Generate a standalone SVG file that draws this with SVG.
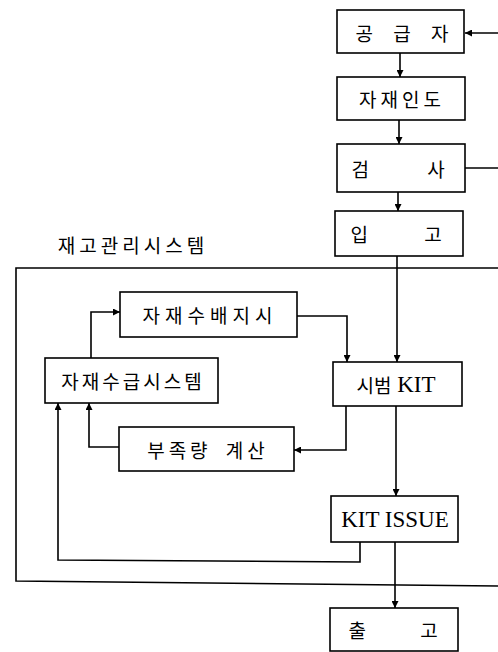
<svg xmlns="http://www.w3.org/2000/svg" width="498" height="652" viewBox="0 0 498 652">
<style>
.b{fill:#fff;stroke:#000;stroke-width:1.6}
.t{font-family:"Noto Sans CJK KR","Noto Sans",sans-serif;font-size:19px;fill:#000;text-anchor:middle;dominant-baseline:central}
.e{font-family:"Liberation Serif","Noto Sans CJK KR",serif;font-size:23px;fill:#000;text-anchor:middle;dominant-baseline:central}
.c{fill:none;stroke:#000;stroke-width:1.6}
</style>
<defs>
<marker id="a" viewBox="0 0 10 10" refX="10" refY="5" markerWidth="7" markerHeight="7" orient="auto" markerUnits="userSpaceOnUse"><path d="M0,0 L10,5 L0,10 z" fill="#000"/></marker>
</defs>
<rect x="0" y="0" width="498" height="652" fill="#fff"/>
<g id="system">
<path class="c" d="M498,268 L16,268 L16,581 L498,586"/>
<text class="t" x="133" y="244" letter-spacing="4">재고관리시스템</text>
</g>
<g id="connectors">
<path class="c" d="M498,33 L465,33" marker-end="url(#a)"/>
<path class="c" d="M400,53 L400,77" marker-end="url(#a)"/>
<path class="c" d="M399,120 L399,144" marker-end="url(#a)"/>
<path class="c" d="M465,168 L498,168"/>
<path class="c" d="M398,192 L398,211" marker-end="url(#a)"/>
<path class="c" d="M397,256 L397,362" marker-end="url(#a)"/>
<path class="c" d="M297,316 L347,316 L347,362" marker-end="url(#a)"/>
<path class="c" d="M91,358 L91,312 L120,312" marker-end="url(#a)"/>
<path class="c" d="M346,406 L346,450 L294,450" marker-end="url(#a)"/>
<path class="c" d="M119,447 L89,447 L89,403" marker-end="url(#a)"/>
<path class="c" d="M396,406 L396,496" marker-end="url(#a)"/>
<path class="c" d="M360,542 L360,562 L58,560 L58,403" marker-end="url(#a)"/>
<path class="c" d="M395,542 L395,608" marker-end="url(#a)"/>
</g>
<g id="n1"><rect class="b" x="337" y="10" width="127" height="43"/><text class="t" x="402" y="32" word-spacing="16">공 급 자</text></g>
<g id="n2"><rect class="b" x="337" y="77" width="128" height="43"/><text class="t" x="402" y="98" letter-spacing="4">자재인도</text></g>
<g id="n3"><rect class="b" x="337" y="144" width="128" height="48"/><text class="t" x="398" y="168" word-spacing="54">검 사</text></g>
<g id="n4"><rect class="b" x="335" y="211" width="128" height="45"/><text class="t" x="396" y="233" word-spacing="52">입 고</text></g>
<g id="n5"><rect class="b" x="120" y="292" width="177" height="45"/><text class="t" x="210" y="314" letter-spacing="5">자재수배지시</text></g>
<g id="n6"><rect class="b" x="45" y="358" width="173" height="45"/><text class="t" x="133" y="380" letter-spacing="3">자재수급시스템</text></g>
<g id="n7"><rect class="b" x="333" y="362" width="129" height="44"/><text class="e" x="396" y="384"><tspan font-family="Noto Sans CJK KR" font-size="19">시범</tspan> KIT</text></g>
<g id="n8"><rect class="b" x="119" y="427" width="175" height="44"/><text class="t" x="208" y="449" letter-spacing="4" word-spacing="6">부족량 계산</text></g>
<g id="n9"><rect class="b" x="331" y="496" width="127" height="46"/><text class="e" x="395" y="519">KIT ISSUE</text></g>
<g id="n10"><rect class="b" x="330" y="608" width="128" height="43"/><text class="t" x="393" y="629" word-spacing="50">출 고</text></g>
</svg>
